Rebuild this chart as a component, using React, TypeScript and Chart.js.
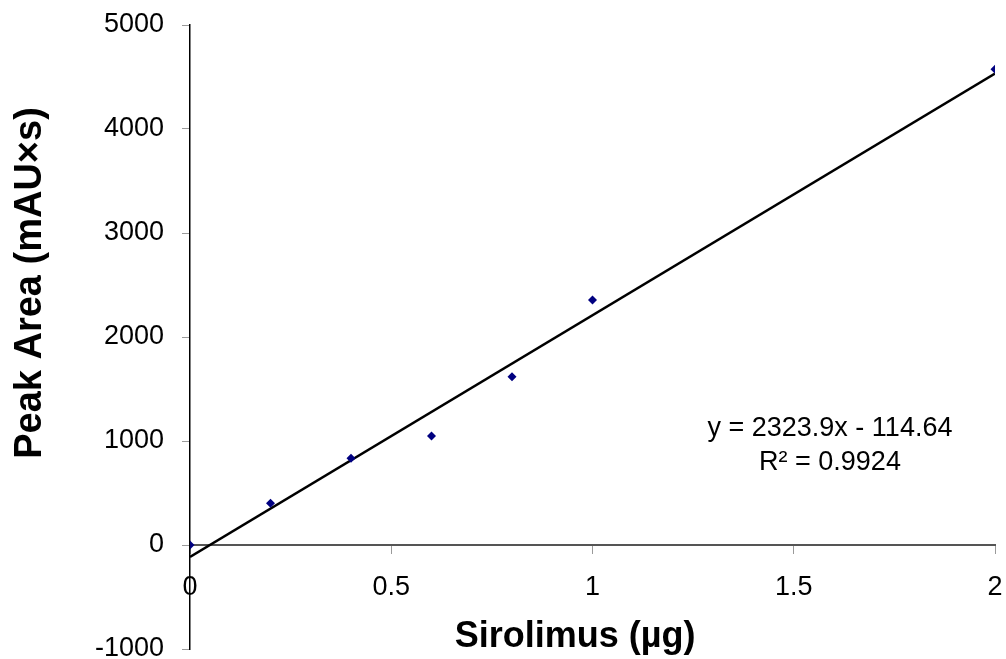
import React, { useEffect, useRef } from "react";
import { Chart, registerables } from "chart.js";

Chart.register(...registerables);

// Data
const amounts = [0, 0.2, 0.4, 0.6, 0.8, 1.0, 2.0];
const peakAreas = [0, 401, 834, 1048, 1618, 2356, 4574];

// Trendline as printed on the chart
const slope = 2323.9;
const intercept = -114.64;
const trendX = [0, 2];
const equationLines = ["y = 2323.9x - 114.64", "R\u00B2 = 0.9924"];

const xTitle = "Sirolimus (\u00B5g)";
const yTitle = "Peak Area (mAU\u00D7s)";

const xTicks = [0, 0.5, 1, 1.5, 2];
const yTicks = [-1000, 0, 1000, 2000, 3000, 4000, 5000];

const FONT = "'Liberation Sans', Arial, Helvetica, sans-serif";

const textPlugin = {
  id: "textOverlay",
  afterDraw(chart: any) {
    const ctx = chart.ctx;
    const xs = chart.scales.x;
    const ys = chart.scales.y;
    ctx.save();
    ctx.fillStyle = "#000";
    // equation
    ctx.font = `27px ${FONT}`;
    ctx.textAlign = "center";
    ctx.textBaseline = "middle";
    const ex = xs.getPixelForValue(1.59);
    const ey = ys.getPixelForValue(1120);
    ctx.fillText(equationLines[0], ex, ey);
    ctx.fillText(equationLines[1], ex, ey + 34);
    // x title
    ctx.font = `bold 36px ${FONT}`;
    ctx.fillText(xTitle, 575, 637);
    // y title
    ctx.translate(31, 283);
    ctx.rotate(-Math.PI / 2);
    ctx.font = `bold 38px ${FONT}`;
    ctx.fillText(yTitle, 0, 0);
    ctx.restore();
  },
};

export default function App() {
  const ref = useRef<HTMLCanvasElement | null>(null);
  useEffect(() => {
    if (!ref.current) return;
    const chart = new Chart(ref.current, {
      type: "scatter",
      data: {
        datasets: [
          {
            label: "Peak Area",
            data: amounts.map((x, i) => ({ x, y: peakAreas[i] })),
            pointStyle: "rectRot",
            pointRadius: 4.5,
            backgroundColor: "#000080",
            borderColor: "#000080",
            borderWidth: 0,
            order: 0,
          },
          {
            type: "line",
            label: "Linear",
            data: trendX.map((x) => ({ x, y: slope * x + intercept })),
            borderColor: "#000",
            borderWidth: 2.5,
            pointRadius: 0,
            fill: false,
            order: 1,
          } as any,
        ],
      },
      options: {
        animation: false,
        responsive: true,
        maintainAspectRatio: false,
        layout: { padding: { left: 0, top: 25, right: 11, bottom: 10 } },
        plugins: { legend: { display: false }, tooltip: { enabled: false } },
        scales: {
          x: {
            type: "linear",
            position: { y: 0 } as any,
            min: 0,
            max: 2,
            afterBuildTicks: (s: any) => {
              s.ticks = xTicks.map((v) => ({ value: v }));
            },
            afterFit: (s: any) => {
              s.paddingLeft = 0;
              s.paddingRight = 0;
            },
            ticks: {
              color: "#000",
              font: { family: FONT, size: 27 },
              padding: 18,
              maxRotation: 0,
              callback: (v: any) => String(v),
            },
            grid: {
              drawOnChartArea: false,
              drawTicks: true,
              tickLength: 8,
              tickColor: "#9a9a9a",
            },
            border: { color: "#555", width: 2 },
          },
          y: {
            type: "linear",
            position: "left",
            min: -1000,
            max: 5000,
            afterBuildTicks: (s: any) => {
              s.ticks = yTicks.map((v) => ({ value: v }));
            },
            afterFit: (s: any) => {
              s.width = 190;
              s.paddingTop = 0;
              s.paddingBottom = 0;
            },
            ticks: {
              color: "#000",
              font: { family: FONT, size: 27 },
              padding: 18,
              callback: (v: any) => String(v),
            },
            grid: {
              drawOnChartArea: false,
              drawTicks: true,
              tickLength: 8,
              tickColor: "#9a9a9a",
            },
            border: { color: "#000", width: 1.5 },
          },
        },
      },
      plugins: [textPlugin],
    });
    return () => chart.destroy();
  }, []);
  return (
    <div style={{ position: "absolute", left: 0, top: 0, width: 1006, height: 659, background: "#fff" }}>
      <canvas ref={ref} />
    </div>
  );
}
